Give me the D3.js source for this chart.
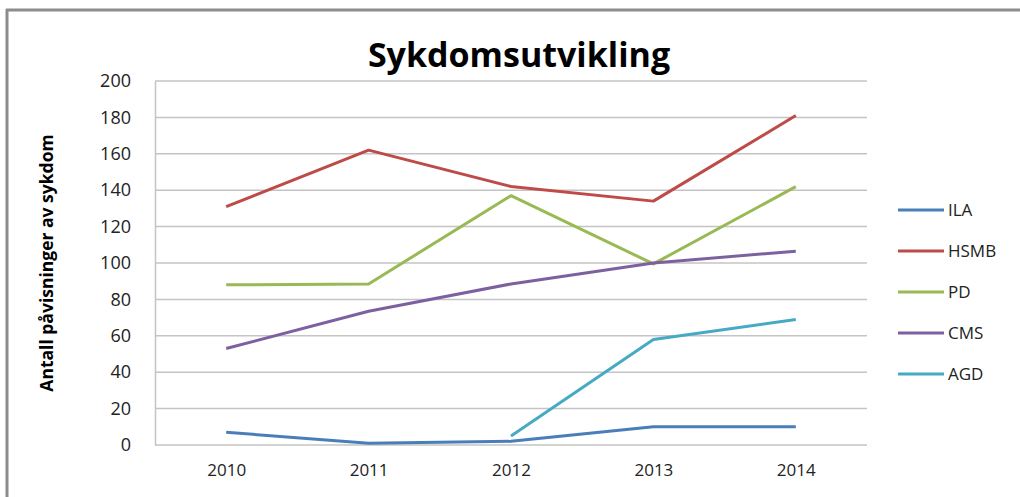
<!DOCTYPE html>
<html>
<head>
<meta charset="utf-8">
<script src="https://cdn.jsdelivr.net/npm/d3@7"></script>
<style>
body { margin: 0; background: #fff; }
svg { display: block; font-family: "Open Sans", "Noto Sans", sans-serif; }
</style>
</head>
<body>
<svg id="chart" width="1020" height="497"></svg>
<script>
// data
var years = ["2010", "2011", "2012", "2013", "2014"];
var yTicks = [0, 20, 40, 60, 80, 100, 120, 140, 160, 180, 200];
var seriesNames = ["ILA", "HSMB", "PD", "CMS", "AGD"];
var seriesColors = ["#4a7ebb", "#be4b48", "#98b954", "#7d60a0", "#46aac5"];
var ILA = [7, 1, 2, 10, 10];
var HSMB = [131, 162, 142, 134, 181];
var PD = [88, 88.5, 137, 99.5, 142];
var CMS = [53, 73.5, 88.5, 100, 106.5];
var AGD = [null, null, 5, 58, 69];

var allSeries = [ILA, HSMB, PD, CMS, AGD];

var svg = d3.select("#chart");
var margin = {top: 81, left: 155, right: 153, bottom: 52};
var width = 1020 - margin.left - margin.right,
    height = 497 - margin.top - margin.bottom;

// outer frame (only top and left edges visible)
svg.append("line").attr("x1", 6).attr("x2", 1020).attr("y1", 10).attr("y2", 10)
  .attr("stroke", "#8c8c8c").attr("stroke-width", 3);
svg.append("line").attr("x1", 7).attr("x2", 7).attr("y1", 9).attr("y2", 497)
  .attr("stroke", "#8c8c8c").attr("stroke-width", 3);

var g = svg.append("g").attr("transform", "translate(" + margin.left + "," + margin.top + ")");

var x = d3.scalePoint().domain(years).range([0, width]).padding(0.5);
var y = d3.scaleLinear().domain([0, 200]).range([height, 0]);

// gridlines
g.selectAll(".grid").data(yTicks).enter().append("line")
  .attr("class", "grid")
  .attr("x1", 0).attr("x2", width)
  .attr("y1", function(d) { return y(d); })
  .attr("y2", function(d) { return y(d); })
  .attr("stroke", "#c4c4c4").attr("stroke-width", 1.5);

// y axis
var ya = g.append("g").call(d3.axisLeft(y).tickValues(yTicks).tickSize(0).tickPadding(24));
ya.select(".domain").attr("stroke", "#c4c4c4").attr("stroke-width", 1.5);
ya.selectAll("text").attr("font-size", "18px").attr("fill", "#222")
  .attr("font-family", "'Open Sans', sans-serif");

// x axis
var xa = g.append("g").attr("transform", "translate(0," + height + ")")
  .call(d3.axisBottom(x).tickSize(0).tickPadding(19));
xa.select(".domain").remove();
xa.selectAll("text").attr("font-size", "17px").attr("fill", "#222")
  .attr("font-family", "'Open Sans', sans-serif");

// lines
var line = d3.line()
  .defined(function(d) { return d != null; })
  .x(function(d, i) { return x(years[i]); })
  .y(function(d) { return y(d); });

g.selectAll(".serie").data(allSeries).enter().append("path")
  .attr("class", "serie")
  .attr("fill", "none")
  .attr("stroke", function(d, i) { return seriesColors[i]; })
  .attr("stroke-width", 3)
  .attr("stroke-linejoin", "round")
  .attr("d", line);

// title
svg.append("text")
  .attr("x", 519).attr("y", 67)
  .attr("text-anchor", "middle")
  .attr("font-size", "34px").attr("font-weight", "bold")
  .attr("fill", "#000")
  .text("Sykdomsutvikling");

// y axis label
svg.append("text")
  .attr("transform", "translate(53,263) rotate(-90)")
  .attr("text-anchor", "middle")
  .attr("font-size", "17.5px").attr("font-weight", "bold")
  .attr("fill", "#000")
  .text("Antall påvisninger av sykdom");

// legend
var legend = svg.selectAll(".legend").data(seriesNames).enter().append("g")
  .attr("class", "legend")
  .attr("transform", function(d, i) { return "translate(898," + (210 + i * 41) + ")"; });

legend.append("line")
  .attr("x1", 0).attr("x2", 46)
  .attr("stroke", function(d, i) { return seriesColors[i]; })
  .attr("stroke-width", 3);

legend.append("text")
  .attr("x", 50).attr("dy", "0.36em")
  .attr("font-size", "17px").attr("fill", "#222")
  .text(function(d) { return d; });
</script>
</body>
</html>
